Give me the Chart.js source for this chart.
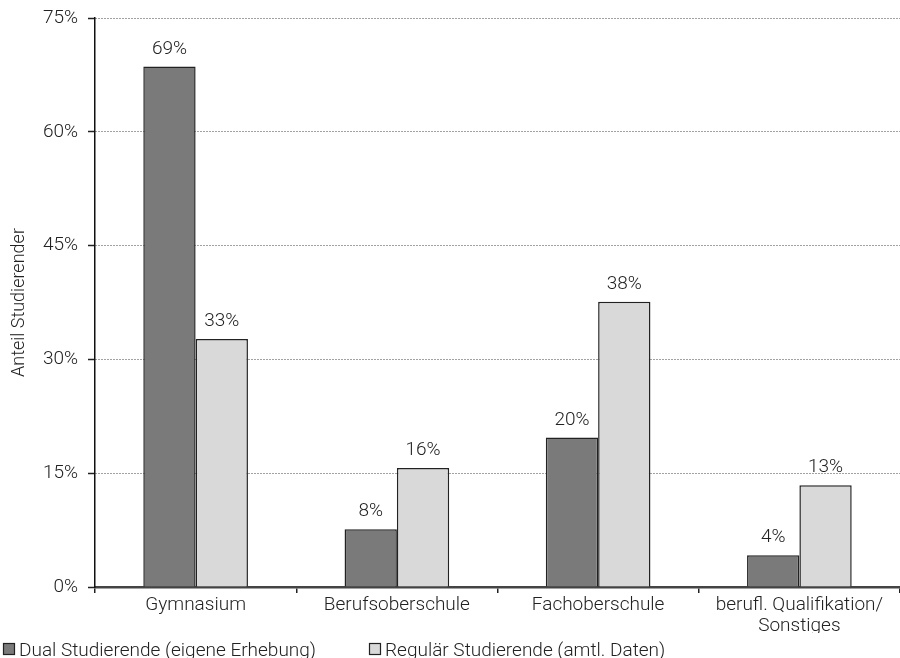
<!DOCTYPE html>
<html>
<head>
<meta charset="utf-8">
<script src="https://cdn.jsdelivr.net/npm/chart.js@4/dist/chart.umd.min.js"></script>
<style>
  html, body { margin: 0; padding: 0; background: #fff; }
  #chart1 { display: block; }
</style>
</head>
<body>
<canvas id="chart1" width="900" height="658"></canvas>
<script>
// Schulabschluss der Studierenden
const categories = ["Gymnasium", "Berufsoberschule", "Fachoberschule", ["berufl. Qualifikation/", "Sonstiges"]]
const dualValues = [68.6, 7.6, 19.7, 4.2]
const regularValues = [32.7, 15.7, 37.6, 13.4]
const seriesNames = ["Dual Studierende (eigene Erhebung)", "Regulär Studierende (amtl. Daten)"]
const yTicks = [0, 15, 30, 45, 60, 75]

const fontFamily = "Roboto, 'Liberation Sans', Arial, sans-serif"
const textColor = "#222"

const canvas = document.getElementById("chart1")
const context = canvas.getContext("2d")

// value labels above each bar
const valueLabels = {
    id: "valueLabels",
    afterDatasetsDraw(chart) {
        const ctx = chart.ctx
        ctx.save()
        ctx.font = `300 19px ${fontFamily}`
        ctx.fillStyle = textColor
        ctx.textAlign = "center"
        ctx.textBaseline = "alphabetic"
        chart.data.datasets.forEach((ds, i) => {
            chart.getDatasetMeta(i).data.forEach((bar, j) => {
                ctx.fillText(Math.round(ds.data[j]) + "%", bar.x, bar.y - 13)
            })
        })
        ctx.restore()
    }
}

// legend row at the bottom left
const bottomLegend = {
    id: "bottomLegend",
    afterDraw(chart) {
        const ctx = chart.ctx
        const xs = [3, 369]
        const base = 656
        ctx.save()
        ctx.font = `300 19px ${fontFamily}`
        ctx.textBaseline = "alphabetic"
        chart.data.datasets.forEach((ds, i) => {
            ctx.fillStyle = ds.backgroundColor
            ctx.fillRect(xs[i], base - 13, 12, 12)
            ctx.strokeStyle = "#222"
            ctx.lineWidth = 1.2
            ctx.strokeRect(xs[i] + 0.5, base - 12.5, 11, 11)
            ctx.fillStyle = textColor
            ctx.fillText(ds.label, xs[i] + 16, base)
        })
        ctx.restore()
    }
}

const config = {
    type: "bar",
    data: {
        labels: categories,
        datasets: [
            {
                label: seriesNames[0],
                data: dualValues,
                backgroundColor: "#7a7a7a",
                borderColor: "#222",
                borderWidth: 1.5,
                borderSkipped: "bottom",
                categoryPercentage: 0.52,
                barPercentage: 1
            },
            {
                label: seriesNames[1],
                data: regularValues,
                backgroundColor: "#d9d9d9",
                borderColor: "#222",
                borderWidth: 1.5,
                borderSkipped: "bottom",
                categoryPercentage: 0.52,
                barPercentage: 1
            }
        ]
    },
    options: {
        responsive: false,
        animation: false,
        layout: { padding: { top: 18, right: 0, bottom: 25, left: 0 } },
        plugins: {
            legend: { display: false },
            tooltip: { enabled: false }
        },
        scales: {
            x: {
                grid: {
                    offset: true,
                    drawOnChartArea: false,
                    drawTicks: true,
                    tickLength: 6,
                    color: "#222",
                    lineWidth: 1.5
                },
                border: { display: true, color: "#444", width: 2.5 },
                ticks: {
                    color: textColor,
                    padding: 2,
                    maxRotation: 0,
                    autoSkip: false,
                    font: { family: fontFamily, size: 19, weight: 300, lineHeight: 1.1 }
                },
                afterFit(scale) { scale.height = 46 }
            },
            y: {
                min: 0,
                max: 75,
                afterBuildTicks(scale) { scale.ticks = yTicks.map(v => ({ value: v })) },
                grid: {
                    color: "#444",
                    lineWidth: 1,
                    tickLength: 7,
                    tickColor: "#222",
                    tickBorderDash: [],
                    tickWidth: 1.5
                },
                border: { display: true, color: "#111", width: 1.5, dash: [1, 2] },
                ticks: {
                    color: textColor,
                    padding: 10,
                    font: { family: fontFamily, size: 19, weight: 300 },
                    callback: v => v + "%"
                },
                title: {
                    display: true,
                    text: "Anteil Studierender",
                    color: textColor,
                    padding: { top: 9, bottom: 0 },
                    font: { family: fontFamily, size: 18, weight: 300 }
                },
                afterFit(scale) {
                    scale.width = 95
                    scale.paddingTop = 0
                }
            }
        }
    },
    plugins: [valueLabels, bottomLegend]
}

const myChart = new Chart(context, config)
</script>
</body>
</html>
